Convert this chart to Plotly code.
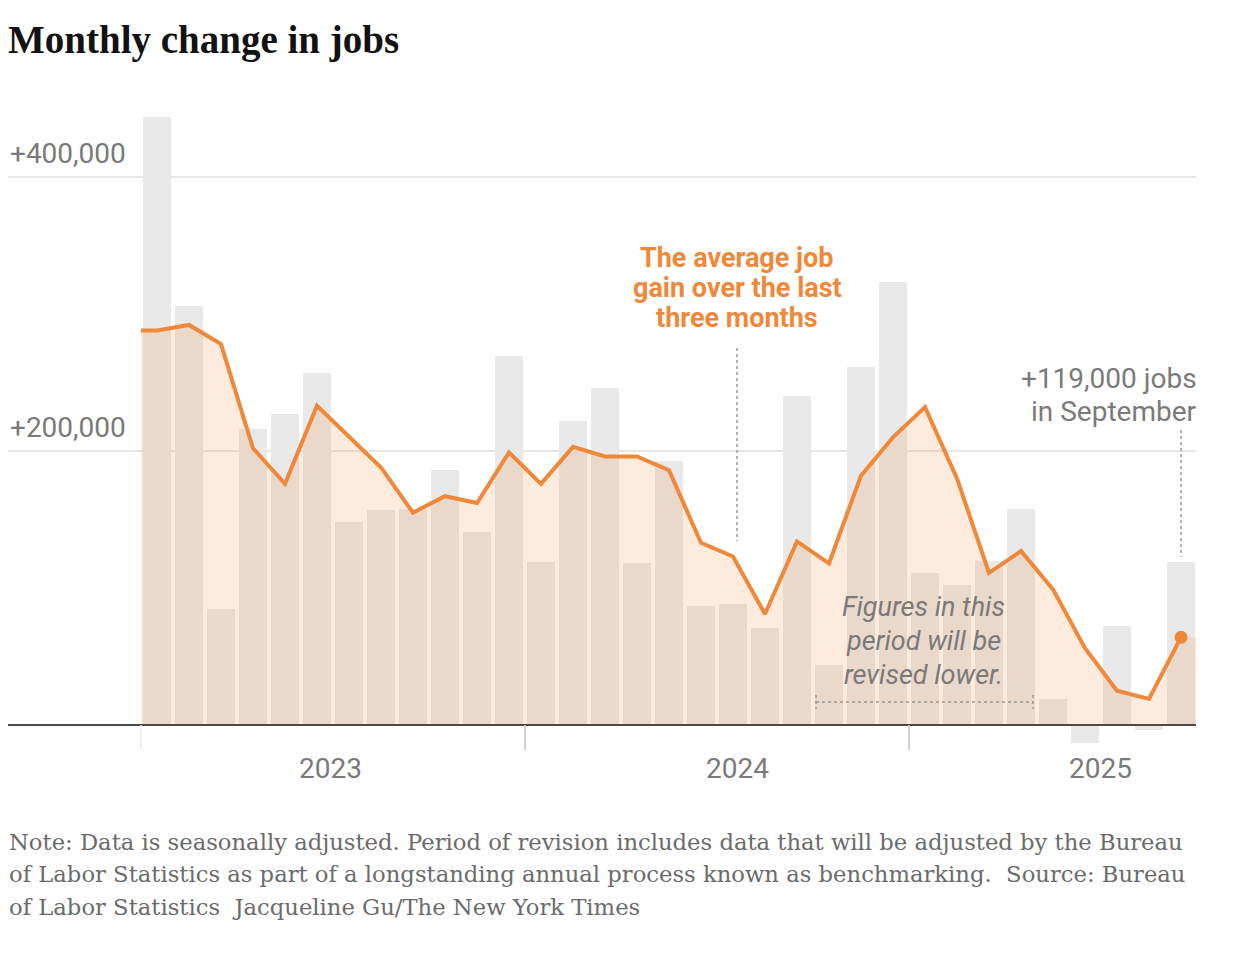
import plotly.graph_objects as go

# ---------------- data ----------------
months = ["Jan 2023", "Feb 2023", "Mar 2023", "Apr 2023", "May 2023", "Jun 2023",
          "Jul 2023", "Aug 2023", "Sep 2023", "Oct 2023", "Nov 2023", "Dec 2023",
          "Jan 2024", "Feb 2024", "Mar 2024", "Apr 2024", "May 2024", "Jun 2024",
          "Jul 2024", "Aug 2024", "Sep 2024", "Oct 2024", "Nov 2024", "Dec 2024",
          "Jan 2025", "Feb 2025", "Mar 2025", "Apr 2025", "May 2025", "Jun 2025",
          "Jul 2025", "Aug 2025", "Sep 2025"]

jobs_change = [444000, 306000, 85000, 216000, 227000, 257000,
               148000, 157000, 158000, 186000, 141000, 269000,
               119000, 222000, 246000, 118000, 193000, 87000,
               88000, 71000, 240000, 44000, 261000, 323000,
               111000, 102000, 120000, 158000, 19000, -13000,
               72000, -4000, 119000]

avg_3mo = [288000, 292000, 278000, 202000, 176000, 233000,
           211000, 188000, 155000, 167000, 162000, 199000,
           176000, 203000, 196000, 196000, 186000, 133000,
           123000, 81000, 134000, 118000, 182000, 210000,
           232000, 180000, 111000, 127000, 99000, 56000,
           25000, 19000, 64000]

y_tick_vals = [200000, 400000]
y_tick_text = ["+200,000", "+400,000"]
year_labels = ["2023", "2024", "2025"]
year_start_idx = [0, 12, 24]

# ---------------- geometry helpers (layout only) ----------------
W, H = 1246, 964
PL, PR, PT, PB = 8, 1196, 100, 750          # plot area in pixels
X0_PX, STEP = 157, 32                        # centre of first bar, bar pitch
ZERO_PX, PX_PER_UNIT = 725, 1.37 / 1000      # zero line pixel, px per job

def xv(px):
    return (px - X0_PX) / STEP

def yv(py):
    return (ZERO_PX - py) / PX_PER_UNIT

def yp(py):
    return (PB - py) / (PB - PT)

idx = list(range(len(months)))

ORANGE = "#f0883a"
GREY_TXT = "#7a7a7a"
SANS = "Roboto, Arial, sans-serif"
SERIF = "Liberation Serif, Times New Roman, serif"
NOTE_SERIF = "DejaVu Serif, Georgia, serif"

fig = go.Figure()

fig.add_trace(go.Bar(
    x=idx, y=jobs_change, width=28 / 32,
    marker=dict(color="#e9e9e9", line=dict(width=0)),
    hoverinfo="skip", customdata=months,
))

# shaded area under the 3-month average
x_fill = [idx[0] - 0.5] + idx + [idx[-1] + 0.5]
y_fill = [avg_3mo[0]] + avg_3mo + [avg_3mo[-1]]
fig.add_trace(go.Scatter(
    x=x_fill, y=y_fill, mode="lines", fill="tozeroy",
    fillcolor="rgba(242,136,58,0.17)", line=dict(width=0),
    hoverinfo="skip",
))

# the 3-month average line
fig.add_trace(go.Scatter(
    x=[idx[0] - 0.5] + idx, y=[avg_3mo[0]] + avg_3mo, mode="lines",
    line=dict(color=ORANGE, width=4), hoverinfo="skip",
))

# end dot
fig.add_trace(go.Scatter(
    x=[idx[-1]], y=[avg_3mo[-1]], mode="markers",
    marker=dict(color=ORANGE, size=13), hoverinfo="skip",
))

shapes = []
# zero line
shapes.append(dict(type="line", xref="paper", yref="y", x0=0, x1=1, y0=0, y1=0,
                   line=dict(color="#4a4a4a", width=2), layer="above"))
# year tick marks
for k, s in enumerate(year_start_idx):
    shapes.append(dict(type="line", xref="x", yref="paper", x0=s - 0.5, x1=s - 0.5,
                       y0=yp(ZERO_PX), y1=0,
                       line=dict(color="#ececec" if k == 0 else "#c4c4c4", width=1.5)))
# dotted leader: average annotation
shapes.append(dict(type="line", xref="x", yref="y", x0=xv(737), x1=xv(737),
                   y0=yv(348), y1=yv(541), line=dict(color="#9a9a9a", width=1.5, dash="dot")))
# dotted leader: September
shapes.append(dict(type="line", xref="x", yref="y", x0=idx[-1], x1=idx[-1],
                   y0=yv(430), y1=yv(557), line=dict(color="#9a9a9a", width=1.5, dash="dot")))
# revision bracket
bx0, bx1 = xv(816), xv(1033)
shapes.append(dict(type="line", xref="x", yref="y", x0=bx0, x1=bx1,
                   y0=yv(702), y1=yv(702), line=dict(color="#9a9a9a", width=1.5, dash="dot")))
for bx in (bx0, bx1):
    shapes.append(dict(type="line", xref="x", yref="y", x0=bx, x1=bx,
                       y0=yv(695), y1=yv(709), line=dict(color="#9a9a9a", width=1.5, dash="dot")))

ann = []
# title
ann.append(dict(text="<b>Monthly change in jobs</b>", xref="paper", yref="paper",
                x=0, y=yp(40), xshift=-2, xanchor="left", yanchor="middle", showarrow=False,
                font=dict(family=SERIF, size=39, color="#121212")))
# y tick labels
for v, t in zip(y_tick_vals, y_tick_text):
    ann.append(dict(text=t, xref="paper", yref="y", x=0, y=v,
                    yshift=24, xanchor="left", yanchor="middle", showarrow=False,
                    font=dict(family=SANS, size=28, color=GREY_TXT)))
# year labels
for t, px in zip(year_labels, [330, 737, 1100]):
    ann.append(dict(text=t, xref="x", yref="paper", x=xv(px), y=yp(768),
                    xanchor="center", yanchor="middle", showarrow=False,
                    font=dict(family=SANS, size=28, color=GREY_TXT)))
# orange annotation
for t, py in zip(["The average job", "gain over the last", "three months"], [258, 288, 318]):
    ann.append(dict(text="<b>" + t + "</b>", xref="x", yref="y", x=xv(737), y=yv(py),
                    xanchor="center", yanchor="middle", showarrow=False,
                    font=dict(family=SANS, size=27, color=ORANGE)))
# September annotation
for t, py in zip(["+119,000 jobs", "in September"], [378, 411]):
    ann.append(dict(text=t, xref="paper", yref="y", x=1, y=yv(py), xshift=3,
                    xanchor="right", yanchor="middle", showarrow=False,
                    font=dict(family=SANS, size=28, color=GREY_TXT)))
# revision annotation
for t, py in zip(["Figures in this", "period will be", "revised lower."], [607, 641, 675]):
    ann.append(dict(text="<i>" + t + "</i>", xref="x", yref="y", x=xv(923), y=yv(py),
                    xanchor="center", yanchor="middle", showarrow=False,
                    font=dict(family=SANS, size=27, color=GREY_TXT)))
# note
note_lines = [
    "Note: Data is seasonally adjusted. Period of revision includes data that will be adjusted by the Bureau",
    "of Labor Statistics as part of a longstanding annual process known as benchmarking.  Source: Bureau",
    "of Labor Statistics  Jacqueline Gu/The New York Times",
]
for t, py in zip(note_lines, [842, 874, 907]):
    ann.append(dict(text=t, xref="paper", yref="paper", x=0, y=yp(py), xshift=-1,
                    xanchor="left", yanchor="middle", showarrow=False,
                    font=dict(family=NOTE_SERIF, size=22.7, color="#6b6b6b")))

fig.update_layout(
    width=W, height=H,
    margin=dict(l=PL, r=W - PR, t=PT, b=H - PB, pad=0),
    paper_bgcolor="white", plot_bgcolor="white",
    showlegend=False, hovermode=False,
    xaxis=dict(range=[xv(PL), xv(PR)], showgrid=False, zeroline=False,
               showticklabels=False, ticks="", fixedrange=True),
    yaxis=dict(range=[yv(PB), yv(PT)], tickvals=y_tick_vals, showticklabels=False,
               showgrid=True, gridcolor="#e6e6e6", gridwidth=1.5, zeroline=False,
               ticks="", fixedrange=True),
    shapes=shapes, annotations=ann,
    bargap=0,
)

fig.write_html("out.html", config={"displayModeBar": False},
               post_script="document.body.style.margin='0';")
